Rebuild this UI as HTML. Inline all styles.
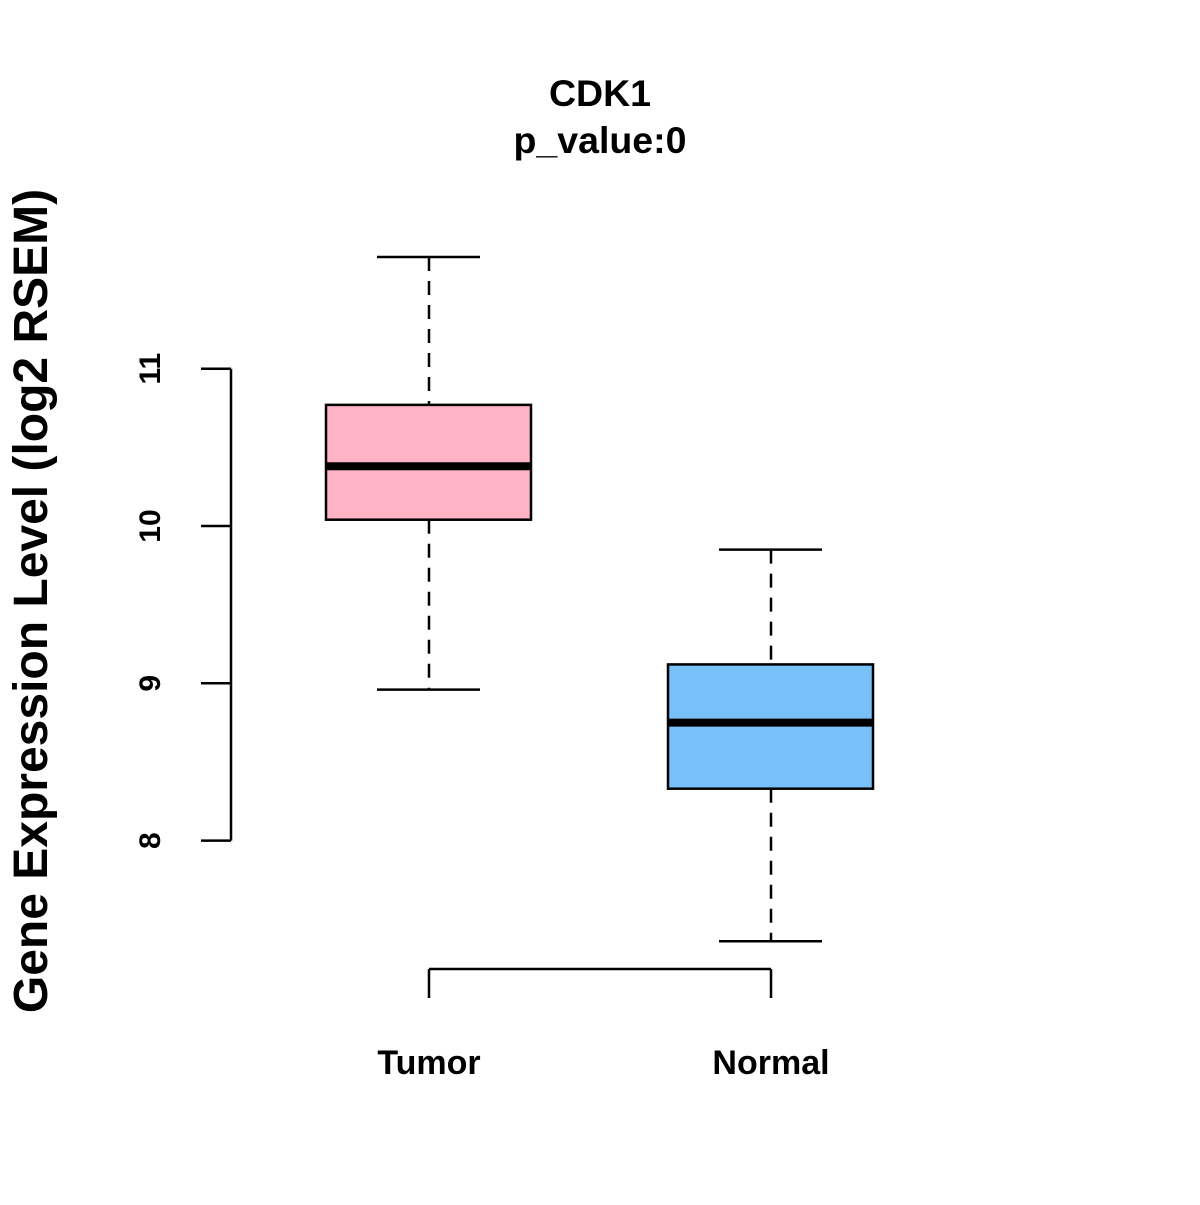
<!DOCTYPE html>
<html><head><meta charset="utf-8"><style>
body{margin:0;background:#fff}
text{font-family:"Liberation Sans",Arial,sans-serif;font-weight:bold}
</style></head><body>
<svg id="chart" width="1200" height="1200" viewBox="0 0 1200 1200" xmlns="http://www.w3.org/2000/svg">
<rect width="1200" height="1200" fill="#fff"/>
<text x="600" y="106" font-size="37.5" text-anchor="middle">CDK1</text>
<text x="600" y="153" font-size="37.5" text-anchor="middle">p_value:0</text>
<text transform="translate(47,601) rotate(-90)" font-size="48" text-anchor="middle">Gene Expression Level (log2 RSEM)</text>
<g id="plot"></g>
</svg>
<script>
const categories=["Tumor","Normal"];
const whiskerLow=[8.96,7.36];
const q1=[10.04,8.33];
const medians=[10.38,8.75];
const q3=[10.77,9.12];
const whiskerHigh=[11.71,9.85];
const fills=["#FFB3C4","#77C1F8"];
const yTicks=[8,9,10,11];

const ns="http://www.w3.org/2000/svg";
const g=document.getElementById('plot');
function y(v){return 526-(v-10)*157.3;}
function x(i){return 429+i*342;}
function mk(tag,attrs){const e=document.createElementNS(ns,tag);for(const k in attrs)e.setAttribute(k,attrs[k]);g.appendChild(e);return e;}

let ax=mk('line',{x1:231,x2:231,y1:y(yTicks[yTicks.length-1]),y2:y(yTicks[0]),stroke:'#000','stroke-width':2.5});


yTicks.forEach(t=>{
  const l=mk('line',{x1:201,x2:231,y1:y(t),y2:y(t),stroke:'#000','stroke-width':2.5});
  
  
  const tx=mk('text',{transform:`translate(160,${y(t)}) rotate(-90)`,'font-size':30,'text-anchor':'middle'});
  tx.textContent=t;
  
  
});
let xa=mk('line',{x1:x(0),x2:x(categories.length-1),y1:969,y2:969,stroke:'#000','stroke-width':2.5});


categories.forEach((c,i)=>{
  const cx=x(i);
  const t=mk('line',{x1:cx,x2:cx,y1:969,y2:998,stroke:'#000','stroke-width':2.5});
  
  
  const lb=mk('text',{x:cx,y:1074,'font-size':34,'text-anchor':'middle'});
  lb.textContent=c;
  
  
  const w1=mk('line',{x1:cx,x2:cx,y1:y(whiskerHigh[i]),y2:y(q3[i]),stroke:'#000','stroke-width':2.5,'stroke-dasharray':'14,10'});
  
  
  const w2=mk('line',{x1:cx,x2:cx,y1:y(q1[i]),y2:y(whiskerLow[i]),stroke:'#000','stroke-width':2.5,'stroke-dasharray':'14,10'});
  
  
  const c1=mk('line',{x1:cx-52,x2:cx+51,y1:y(whiskerHigh[i]),y2:y(whiskerHigh[i]),stroke:'#000','stroke-width':2.5});
  
  
  const c2=mk('line',{x1:cx-52,x2:cx+51,y1:y(whiskerLow[i]),y2:y(whiskerLow[i]),stroke:'#000','stroke-width':2.5});
  
  
  const b=mk('rect',{x:cx-103,width:205,y:y(q3[i]),height:y(q1[i])-y(q3[i]),fill:fills[i],stroke:'#000','stroke-width':2.5});
  
  
  const m=mk('line',{x1:cx-103,x2:cx+102,y1:y(medians[i]),y2:y(medians[i]),stroke:'#000','stroke-width':8});
  
  
});
</script>
</body></html>
